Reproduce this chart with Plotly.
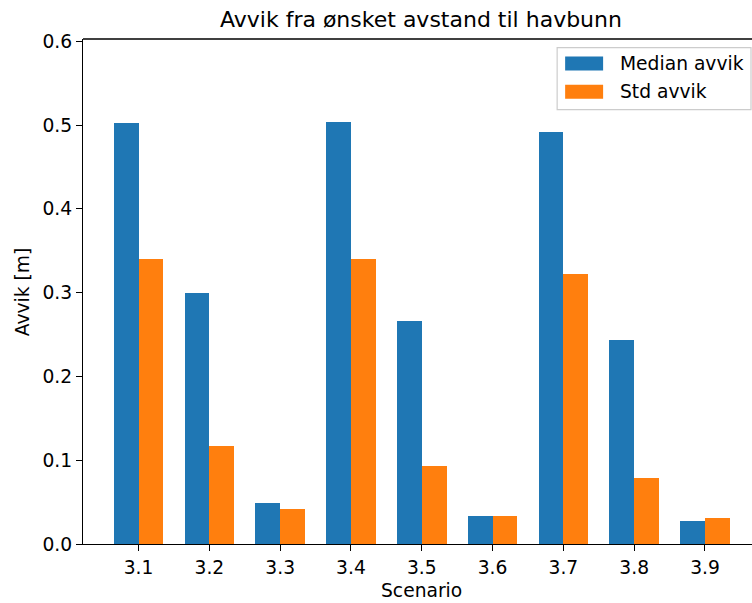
import plotly.graph_objects as go

scenarios = ["3.1", "3.2", "3.3", "3.4", "3.5", "3.6", "3.7", "3.8", "3.9"]
median_avvik = [0.502, 0.2995, 0.049, 0.504, 0.266, 0.033, 0.492, 0.243, 0.027]
std_avvik = [0.340, 0.117, 0.042, 0.340, 0.093, 0.033, 0.322, 0.079, 0.031]
series_names = ["Median avvik", "Std avvik"]
colors = ["#1f77b4", "#ff7f0e"]
y_ticks = [0.0, 0.1, 0.2, 0.3, 0.4, 0.5, 0.6]

W, H = 752, 603
L, T, B = 82.5, 39.3, 544.3
R = 752.0
PW, PH = R - L, B - T

def px_x(x):
    return (x - L) / PW

def px_y(y):
    return (B - y) / PH

idx = list(range(len(scenarios)))
bw = 0.35

fig = go.Figure()
fig.add_trace(go.Bar(x=[i - bw / 2 for i in idx], y=median_avvik, width=bw,
                     marker=dict(color=colors[0], line=dict(width=0)),
                     name=series_names[0], showlegend=False))
fig.add_trace(go.Bar(x=[i + bw / 2 for i in idx], y=std_avvik, width=bw,
                     marker=dict(color=colors[1], line=dict(width=0)),
                     name=series_names[1], showlegend=False))

font = dict(family="DejaVu Sans", size=18.7, color="black")

fig.update_layout(
    width=W, height=H,
    margin=dict(l=L, r=W - R, t=T, b=H - B, pad=0),
    plot_bgcolor="white", paper_bgcolor="white",
    font=font,
    bargap=0,
    xaxis=dict(range=[-0.785, 8.664], tickvals=idx, ticktext=scenarios,
               showgrid=False, zeroline=False, showline=True, linecolor="black",
               linewidth=1.3, ticks="outside", ticklen=6, tickwidth=1.3,
               tickcolor="black", tickfont=font, mirror=False),
    yaxis=dict(range=[0, 0.6028], tickvals=y_ticks,
               ticktext=[f"{v:.1f}" for v in y_ticks],
               showgrid=False, zeroline=False, showline=True, linecolor="black",
               linewidth=1.3, ticks="outside", ticklen=6, tickwidth=1.3,
               tickcolor="black", tickfont=font),
)

shapes = []
shapes.append(dict(type="line", xref="paper", yref="paper", x0=0, x1=1, y0=1, y1=1,
                   line=dict(color="black", width=1.3)))
shapes.append(dict(type="rect", xref="paper", yref="paper",
                   x0=px_x(557), x1=px_x(751), y0=px_y(110), y1=px_y(48),
                   line=dict(color="#cccccc", width=1.2), fillcolor="rgba(255,255,255,0.8)"))
patch_rows = [(56.7, 70.7, 63.5), (85.0, 99.0, 92.0)]
annotations = []
for (ya, yb, yc), name, col in zip(patch_rows, series_names, colors):
    shapes.append(dict(type="rect", xref="paper", yref="paper",
                       x0=px_x(565), x1=px_x(603), y0=px_y(yb), y1=px_y(ya),
                       line=dict(width=0), fillcolor=col))
    annotations.append(dict(text=name, xref="paper", yref="paper", x=px_x(618), y=px_y(yc),
                            xanchor="left", yanchor="middle", showarrow=False, font=font))

annotations.append(dict(text="Avvik fra ønsket avstand til havbunn", xref="paper", yref="paper",
                        x=px_x(421), y=px_y(20), xanchor="center", yanchor="middle",
                        showarrow=False, font=dict(family="DejaVu Sans", size=22, color="black")))
annotations.append(dict(text="Scenario", xref="paper", yref="paper",
                        x=px_x(421), y=px_y(591), xanchor="center", yanchor="middle",
                        showarrow=False, font=font))
annotations.append(dict(text="Avvik [m]", xref="paper", yref="paper",
                        x=px_x(22), y=px_y(292), xanchor="center", yanchor="middle",
                        textangle=-90, showarrow=False, font=font))

fig.update_layout(shapes=shapes, annotations=annotations)
fig.write_html("out.html")
